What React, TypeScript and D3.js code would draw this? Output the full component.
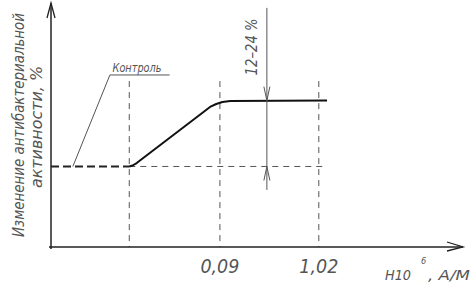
import * as d3 from 'd3';

// readings in arbitrary units (0..100 on both axes)
const guideX = [19, 41, 65];          // vertical dashed guides
const tickLabels = ['0,09', '1,02'];
const tickX = [41, 65];
const curveX = [19, 19.8, 20.8, 38.6, 40.1, 41.6, 43.5, 67];
const curveY = [33, 33.4, 34.4, 57.4, 58.6, 59.4, 59.8, 60];
const baseY = 33;
const guideTop = 68;
const dimX = 52.4;
const dimTop = 98;
const dimBottom = 23.4;
const controlLabel = 'Контроль';
const rangeLabel = '12–24 %';
const yLabel = ['Изменение антибактериальной', 'активности, %'];

const W = 474;
const H = 285;

export default function App() {
  const x = d3.scaleLinear().domain([0, 100]).range([51, 463]);
  const y = d3.scaleLinear().domain([0, 100]).range([247, 3]);

  const pts = curveX.map((v, i) => [v, curveY[i]] as [number, number]);
  const line = d3
    .line<[number, number]>()
    .x((d) => x(d[0]))
    .y((d) => y(d[1]));

  const font = '"Liberation Sans Narrow", "DejaVu Sans Condensed", sans-serif';
  const ink = '#222';
  const grey = '#555';

  const dx = x(dimX);
  const plateau = y(curveY[curveY.length - 1]);
  const base = y(baseY);

  return (
    <svg width={W} height={H} style={{ position: 'absolute', left: 0, top: 0, background: '#fff' }}>
      {/* guides */}
      {guideX.map((g, i) => (
        <line key={i} x1={x(g)} x2={x(g)} y1={y(guideTop)} y2={y(0)}
          stroke={grey} strokeWidth={1} strokeDasharray="6,5" />
      ))}
      <line x1={x(guideX[0])} x2={x(67)} y1={base} y2={base}
        stroke={grey} strokeWidth={1} strokeDasharray="6,5" />
      <line x1={x(0)} x2={x(guideX[0])} y1={base} y2={base}
        stroke={ink} strokeWidth={2} strokeDasharray="8,4" />

      {/* axes */}
      <line x1={x(0)} x2={x(0)} y1={y(0) + 2} y2={y(100)} stroke={ink} strokeWidth={1.5} />
      <line x1={x(0) - 2} x2={x(100)} y1={y(0)} y2={y(0)} stroke={ink} strokeWidth={1.5} />
      <path d={`M${x(0) - 4},${y(100) + 15} L${x(0)},${y(100)} L${x(0) + 4},${y(100) + 15}`}
        fill="none" stroke={ink} strokeWidth={1.3} />
      <path d={`M${x(100) - 16},${y(0) - 5} L${x(100)},${y(0)} L${x(100) - 16},${y(0) + 4}`}
        fill="none" stroke={ink} strokeWidth={1.3} />

      {/* curve */}
      <path d={line(pts) || ''} fill="none" stroke="#111" strokeWidth={2} strokeLinejoin="round" />

      {/* dimension */}
      <line x1={dx} x2={dx} y1={y(dimTop)} y2={y(dimBottom)} stroke={grey} strokeWidth={1} />
      <path d={`M${dx - 3},${plateau - 14} L${dx},${plateau} L${dx + 3},${plateau - 14}`}
        fill="none" stroke={grey} strokeWidth={1} />
      <path d={`M${dx - 3},${base + 14} L${dx},${base} L${dx + 3},${base + 14}`}
        fill="none" stroke={grey} strokeWidth={1} />
      <text transform={`translate(${dx - 10},${y(82)}) rotate(-90)`} textAnchor="middle"
        fontFamily={font} fontStyle="italic" fontSize={15} fill={grey}
        textLength={57} lengthAdjust="spacingAndGlyphs">{rangeLabel}</text>

      {/* control label */}
      <path d={`M${x(5.3)},${base} L${x(14.3)},${y(70.5)} L${x(28.8)},${y(70.5)}`}
        fill="none" stroke={grey} strokeWidth={1} />
      <text x={137} y={72} textAnchor="middle" fontFamily={font} fontStyle="italic"
        fontSize={12} fill={grey} textLength={49} lengthAdjust="spacingAndGlyphs">{controlLabel}</text>

      {/* x ticks */}
      {tickLabels.map((t, i) => (
        <text key={t} x={x(tickX[i])} y={273} textAnchor="middle" fontFamily={font}
          fontStyle="italic" fontSize={20} fill={grey} textLength={39}
          lengthAdjust="spacingAndGlyphs">{t}</text>
      ))}
      <text x={385} y={280} fontFamily={font} fontStyle="italic" fontSize={14} fill={grey}
        textLength={26} lengthAdjust="spacingAndGlyphs">Н10</text>
      <text x={421} y={264} fontFamily={font} fontStyle="italic" fontSize={9} fill={grey}>6</text>
      <text x={428} y={280} fontFamily={font} fontStyle="italic" fontSize={14} fill={grey}
        textLength={42} lengthAdjust="spacingAndGlyphs">, А/М</text>

      {/* y label */}
      <text transform="translate(24,125) rotate(-90)" textAnchor="middle" fontFamily={font}
        fontStyle="italic" fontSize={15} fill={grey} textLength={224}
        lengthAdjust="spacingAndGlyphs">{yLabel[0]}</text>
      <text transform="translate(42,127) rotate(-90)" textAnchor="middle" fontFamily={font}
        fontStyle="italic" fontSize={16} fill={grey} textLength={122}
        lengthAdjust="spacingAndGlyphs">{yLabel[1]}</text>
    </svg>
  );
}
